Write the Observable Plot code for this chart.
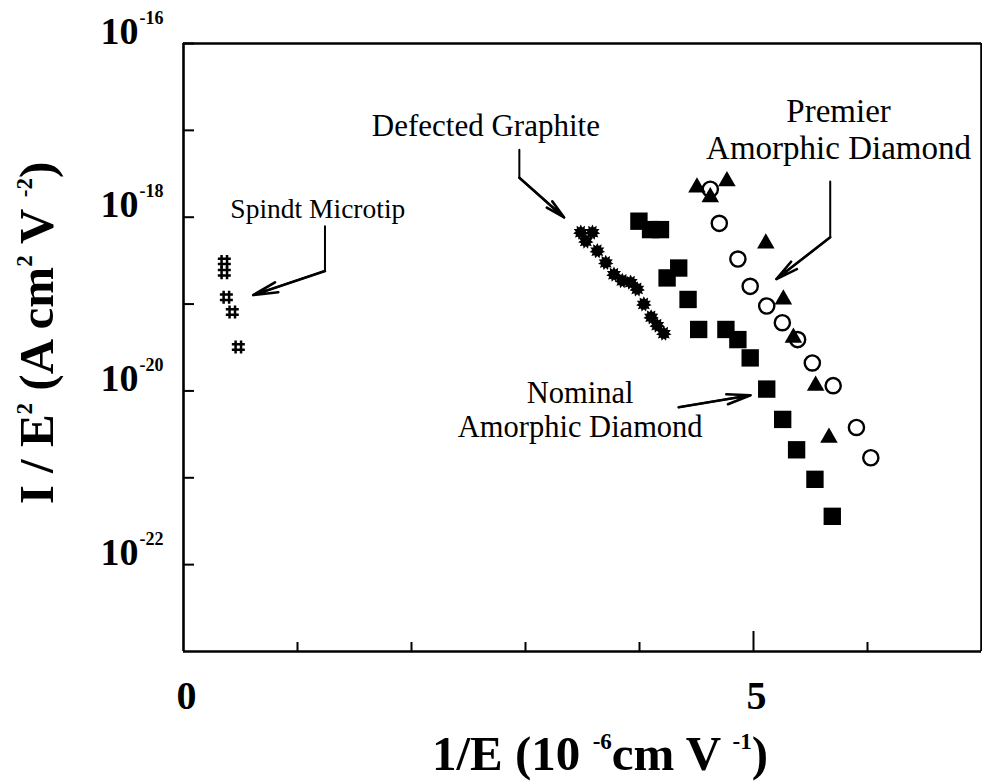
<!DOCTYPE html>
<html><head><meta charset="utf-8">
<script src="https://cdn.jsdelivr.net/npm/d3@7"></script>
<script src="https://cdn.jsdelivr.net/npm/@observablehq/plot@0.6"></script>
<style>
body{margin:0;background:#fff}
#chart{width:982px;height:782px}
</style>
</head><body><div id="chart"></div>
<script>
// ---- data (x: 1/E in 1e-6 cm/V, y: I/E^2 in A cm^2 V^-2) ----
const spindtX = [0.358, 0.358, 0.376, 0.428, 0.481];
const spindtY = [3.1e-19, 2.3e-19, 1.2e-19, 8.1e-20, 3.2e-20];

const graphiteX = [3.485, 3.587, 3.529, 3.630, 3.704, 3.776, 3.849, 3.922, 3.980, 4.038, 4.102, 4.155, 4.213];
const graphiteY = [6.7e-19, 6.7e-19, 5.3e-19, 4.1e-19, 3.0e-19, 2.2e-19, 1.86e-19, 1.78e-19, 1.49e-19, 1.0e-19, 7.1e-20, 5.7e-20, 4.6e-20];

const nominalX = [3.995, 4.097, 4.184, 4.242, 4.344, 4.426, 4.519, 4.758, 4.863, 4.971, 5.116, 5.256, 5.378, 5.539, 5.691];
const nominalY = [9.0e-19, 7.2e-19, 7.2e-19, 2.0e-19, 2.6e-19, 1.13e-19, 5.1e-20, 5.1e-20, 3.9e-20, 2.4e-20, 1.05e-20, 4.7e-21, 2.1e-21, 9.6e-22, 3.6e-22];

const premierCircX = [4.621, 4.700, 4.863, 4.971, 5.116, 5.253, 5.387, 5.516, 5.699, 5.903, 6.029];
const premierCircY = [2.1e-18, 8.5e-19, 3.3e-19, 1.6e-19, 9.5e-20, 6.1e-20, 3.9e-20, 2.1e-20, 1.15e-20, 3.8e-21, 1.7e-21];

const premierTriX = [4.504, 4.621, 4.767, 5.108, 5.262, 5.350, 5.545, 5.662];
const premierTriY = [2.2e-18, 1.7e-18, 2.6e-18, 5.0e-19, 1.13e-19, 4.1e-20, 1.15e-20, 2.9e-21];

// ticks
const xMinorTicks = [1, 2, 3, 4, 6];
const xMajorTicks = [5];
const xTickValues = [0, 5];
const xTickLabels = ["0", "5"];
const yTickValues = [1e-16, 1e-17, 1e-18, 1e-19, 1e-20, 1e-21, 1e-22];
const yLabelValues = [1e-16, 1e-18, 1e-20, 1e-22];
const yLabelBase = ["10", "10", "10", "10"];
const yLabelExp = ["-16", "-18", "-20", "-22"];

// annotations
const noteText = ["Spindt Microtip", "Defected Graphite", "Premier\nAmorphic Diamond", "Nominal\nAmorphic Diamond"];
const noteX = [0.411, 1.652, 5.746, 3.48];
const noteY = [9.7e-19, 8.6e-18, 4.74e-18, 2.91e-21];
const noteAnchor = ["start", "start", "middle", "middle"];
const noteSize = [27.5, 31, 33, 30.5];
const noteLead = [1, 1, 1.12, 1.12];

const arrowId = ["s", "s", "s", "g", "g", "g", "p", "p", "p", "n", "n"];
const arrowX = [1.241, 1.241, 0.612, 2.946, 2.946, 3.339, 5.673, 5.673, 5.201, 4.344, 4.974];
const arrowY = [7.85e-19, 2.40e-19, 1.27e-19, 5.97e-18, 2.85e-18, 9.95e-19, 2.57e-18, 5.87e-19, 1.94e-19, 6.49e-21, 8.9e-21];

// ---- build tables ----
const mk = (xs, ys) => xs.map((x, i) => ({x, y: ys[i]}));
const spindt = mk(spindtX, spindtY);
const graphite = mk(graphiteX, graphiteY);
const nominal = mk(nominalX, nominalY);
const premierC = mk(premierCircX, premierCircY);
const premierT = mk(premierTriX, premierTriY);
const notes = noteText.map((t, i) => ({t, x: noteX[i], y: noteY[i], a: noteAnchor[i], s: noteSize[i], lh: noteLead[i]}));
const arrowPts = arrowId.map((id, i) => ({id, x: arrowX[i], y: arrowY[i]}));
const heads = [];
for (const id of ["s", "g", "p", "n"]) {
  const p = arrowPts.filter(d => d.id === id);
  const a = p[p.length - 2], b = p[p.length - 1];
  heads.push({x1: a.x, y1: a.y, x2: b.x, y2: b.y});
}

// custom symbols
const starSymbol = {draw(ctx, size) {
  const R = Math.sqrt(size / Math.PI), r = R * 0.66, n = 11;
  for (let k = 0; k < 2 * n; k++) {
    const a = k * Math.PI / n - Math.PI / 2, rr = k % 2 ? r : R;
    const px = rr * Math.cos(a), py = rr * Math.sin(a);
    k ? ctx.lineTo(px, py) : ctx.moveTo(px, py);
  }
  ctx.closePath();
}};
const hashSymbol = {draw(ctx, size) {
  const R = Math.sqrt(size / Math.PI), o = R * 0.42;
  ctx.moveTo(-o, -R); ctx.lineTo(-o, R);
  ctx.moveTo(o, -R); ctx.lineTo(o, R);
  ctx.moveTo(-R, -o); ctx.lineTo(R, -o);
  ctx.moveTo(-R, o); ctx.lineTo(R, o);
}};

const serif = "'Liberation Serif', 'Times New Roman', Times, serif";
const W = 982, H = 782, mL = 183, mR = 1, mT = 43, mB = 131;
const plotW = W - mL - mR, plotH = H - mT - mB;
const xDomain = [0, 7], yDomain = [1e-23, 1e-16];

const chart = Plot.plot({
  width: W, height: H,
  marginLeft: mL, marginRight: mR, marginTop: mT, marginBottom: mB,
  x: {domain: xDomain, axis: null},
  y: {type: "log", domain: yDomain, axis: null},
  style: {background: "white", color: "black", fontFamily: serif, overflow: "visible"},
  marks: [
    // frame box
    Plot.ruleX(xDomain, {x: d => d, stroke: "black", strokeWidth: 2.6}),
    Plot.ruleY(yDomain, {y: d => d, stroke: "black", strokeWidth: 2.6}),
    Plot.tickX(xMinorTicks, {x: d => d, insetTop: plotH - 9, stroke: "black", strokeWidth: 2}),
    Plot.tickX(xMajorTicks, {x: d => d, insetTop: plotH - 20, stroke: "black", strokeWidth: 2}),
    Plot.tickY(yTickValues, {y: d => d, insetRight: plotW - 11, stroke: "black", strokeWidth: 2}),
    Plot.text(yLabelValues, {y: d => d, frameAnchor: "left", text: (d, i) => yLabelBase[i], textAnchor: "end", lineAnchor: "bottom", dx: -45, fontSize: 38, fontWeight: "bold", fill: "black"}),
    Plot.text(yLabelValues, {y: d => d, frameAnchor: "left", text: (d, i) => yLabelExp[i], textAnchor: "start", lineAnchor: "bottom", dx: -44, dy: -20, fontSize: 18, fontWeight: "bold", fill: "black"}),
    Plot.text(xTickValues, {x: d => d, frameAnchor: "bottom", text: (d, i) => xTickLabels[i], lineAnchor: "bottom", dx: 3, dy: 57, fontSize: 40, fontWeight: "bold", fill: "black"}),
    // arrows
    Plot.line(arrowPts, {x: "x", y: "y", z: "id", stroke: "black", strokeWidth: 2}),
    Plot.arrow(heads, {x1: "x1", y1: "y1", x2: "x2", y2: "y2", stroke: "black", strokeWidth: 2.6, headLength: 16, headAngle: 24}),
    // notes
    ...notes.map(n => Plot.text([n], {x: "x", y: "y", text: "t", textAnchor: n.a, lineAnchor: "bottom", lineHeight: n.lh, fontSize: n.s, fill: "black"})),
    // data
    Plot.dot(spindt, {x: "x", y: "y", symbol: hashSymbol, r: 6.5, stroke: "black", strokeWidth: 2.5, fill: "none"}),
    Plot.dot(graphite, {x: "x", y: "y", symbol: starSymbol, r: 7.8, fill: "black", stroke: "none"}),
    Plot.dot(nominal, {x: "x", y: "y", symbol: "square", r: 9.8, fill: "black", stroke: "none"}),
    Plot.dot(premierC, {x: "x", y: "y", symbol: "circle", r: 7.6, fill: "none", stroke: "black", strokeWidth: 2.4}),
    Plot.dot(premierT, {x: "x", y: "y", symbol: "triangle", r: 6.5, fill: "black", stroke: "none"})
  ]
});

document.getElementById("chart").appendChild(chart);

// ---- axis titles with superscripts ----
const svg = d3.select(chart);
function addTitle(parts, attrs) {
  const t = svg.append("text")
    .attr("font-family", serif).attr("font-weight", "bold").attr("font-size", 49)
    .attr("fill", "black").attr("text-anchor", "middle");
  for (const [k, v] of Object.entries(attrs)) t.attr(k, v);
  let shifted = false;
  for (const [txt, sup] of parts) {
    const ts = t.append("tspan").text(txt);
    if (sup) { ts.attr("font-size", 23).attr("dy", -21); shifted = true; }
    else if (shifted) { ts.attr("dy", 21); shifted = false; }
  }
  return t;
}
const xs = chart.scale("x");
const xCenter = (xs.range[0] + xs.range[1]) / 2 + 18;
addTitle([["1/E (10 ", false], ["-6", true], ["cm V ", false], ["-1", true], [")", false]],
  {x: xCenter, y: 770});
addTitle([["I / E", false], ["2", true], [" (A cm", false], ["2", true], [" V ", false], ["-2", true], [")", false]],
  {transform: "translate(53,333) rotate(-90)", x: 0, y: 0});
</script>
</body></html>
